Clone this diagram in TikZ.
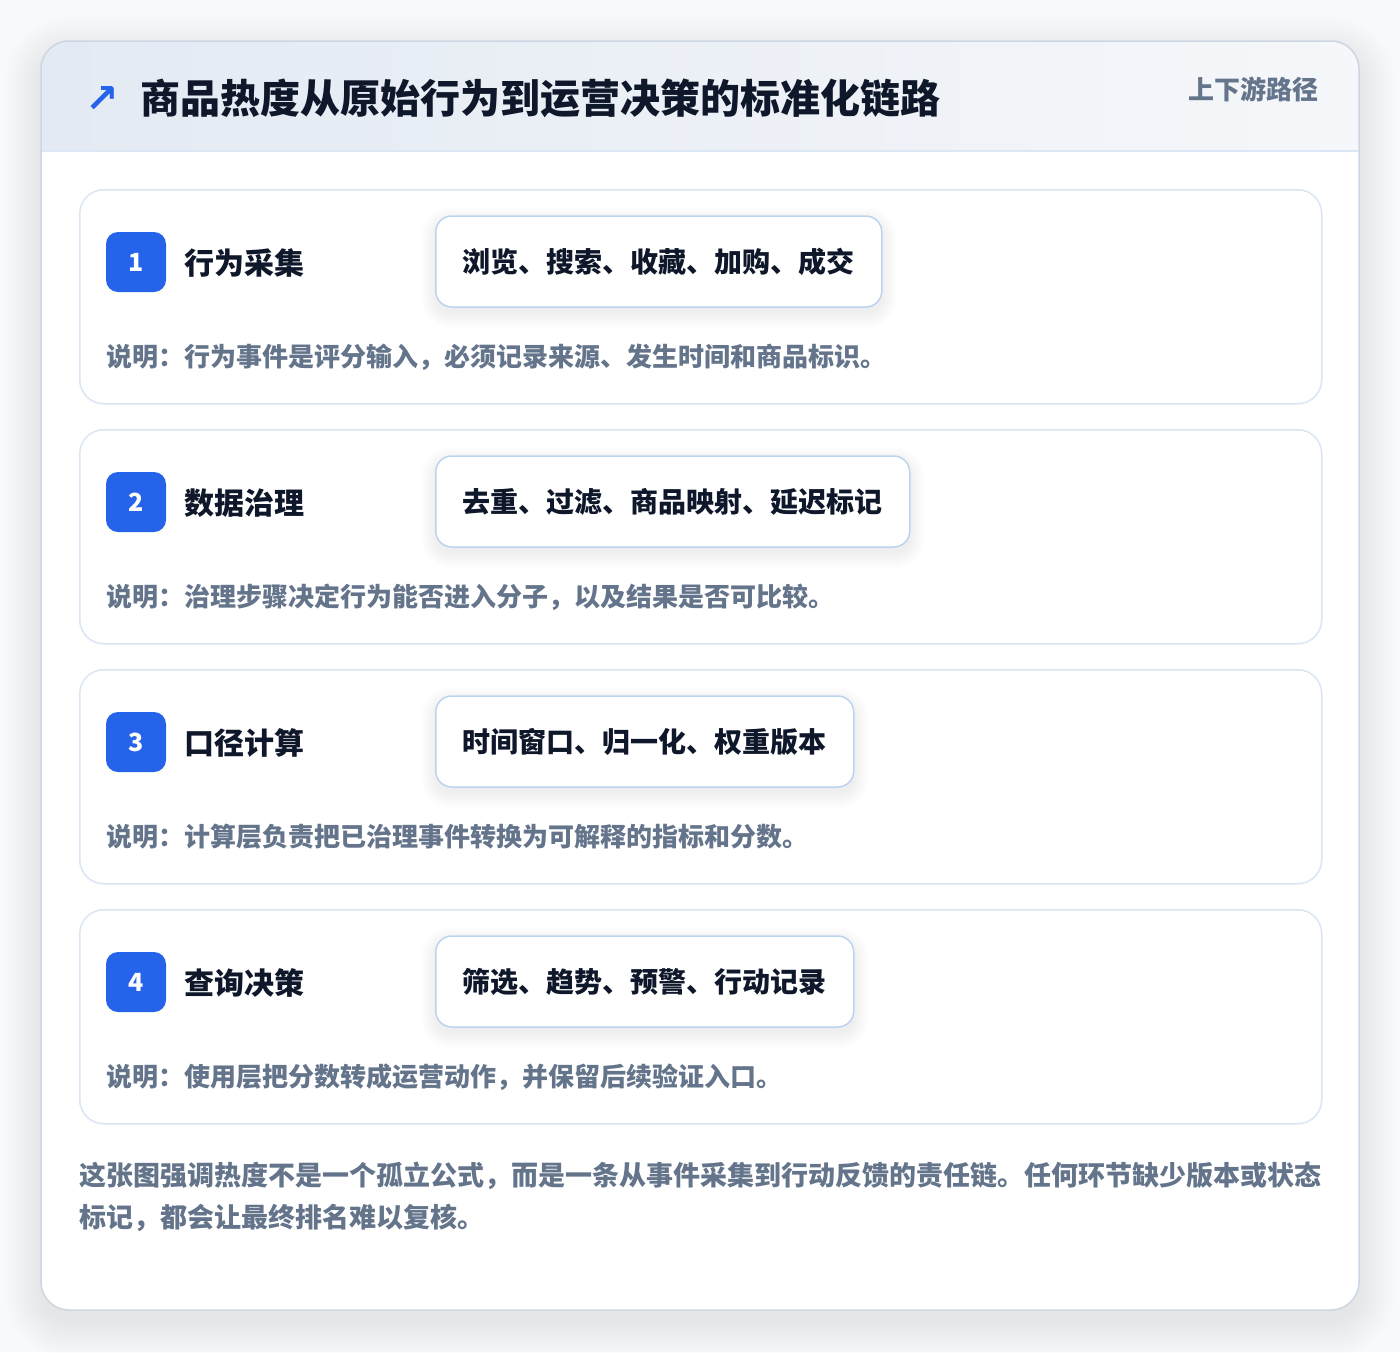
\documentclass[tikz,border=0pt]{standalone}
\usepackage{fontspec}
\setmainfont{Noto Sans CJK SC}
\newfontfamily\symfont{DejaVu Sans}
\definecolor{pagebg}{HTML}{F8F9FB}
\definecolor{cardline}{HTML}{CDD6E3}
\definecolor{hdrleft}{HTML}{E3EAF3}
\definecolor{hdrright}{HTML}{F5F7FA}
\definecolor{hdrline}{HTML}{DCE7F5}
\definecolor{stepline}{HTML}{DBE6F5}
\definecolor{tagline}{HTML}{BCD3F0}
\definecolor{badgeblue}{HTML}{2563EB}
\definecolor{inkdark}{HTML}{0F172A}
\definecolor{inkmuted}{HTML}{64748B}
\definecolor{shadowcol}{HTML}{1E293B}
\tikzset{
  stepbox/.style={draw=stepline, line width=1.5pt, fill=white, rounded corners=24pt,
    minimum width=1242pt, minimum height=214pt, anchor=north west, inner sep=0pt},
  badge/.style={fill=badgeblue, rounded corners=12pt, minimum width=60pt, minimum height=60pt,
    inner sep=0pt, text=white, font=\fontsize{25}{27}\selectfont\bfseries},
  steptitle/.style={anchor=west, inner sep=0pt, text=inkdark, font=\fontsize{30}{34}\selectfont\bfseries},
  tagbox/.style={draw=tagline, line width=1.5pt, fill=white, rounded corners=16pt, anchor=west,
    inner xsep=27pt, inner ysep=0pt, minimum height=91pt, text=inkdark,
    font=\fontsize{28}{32}\selectfont\bfseries},
  desc/.style={anchor=west, inner sep=0pt, text=inkmuted, font=\fontsize{26}{30}\selectfont\bfseries},
}
\begin{document}
\begin{tikzpicture}[x=1pt,y=-1pt]
\useasboundingbox (0,0) rectangle (1400,1352);
\fill[pagebg] (0,0) rectangle (1400,1352);
% card soft shadow
\foreach \k in {0,2,...,36}{
  \fill[shadowcol, opacity=0.0045, rounded corners=28pt+\k pt]
    (41-\k,41-\k+12) rectangle (1359+\k,1310+\k+12);
}
\node[fill=white, rounded corners=28pt, minimum width=1318pt, minimum height=1269pt,
  anchor=north west, inner sep=0pt] (card) at (41,41) {};
\begin{scope}
  \clip[rounded corners=28pt] (41,41) rectangle (1359,1310);
  \shade[left color=hdrleft, right color=hdrright] (41,41) rectangle (1359,151);
\end{scope}
\coordinate (hl) at (41,151);
\coordinate (hr) at (1359,151);
\draw[hdrline, line width=1.5pt] (hl) -- (hr);
\draw[cardline, line width=1.5pt, rounded corners=28pt] (41,41) rectangle (1359,1310);
% header texts
\node[anchor=center, inner sep=0pt, text=badgeblue, font=\symfont\bfseries\fontsize{40}{42}\selectfont] (icon) at (102,99) {↗};
\node[anchor=west, inner sep=0pt, text=inkdark, font=\fontsize{40}{44}\selectfont\bfseries] (title) at (140,98)
  {商品热度从原始行为到运营决策的标准化链路};
\node[anchor=east, inner sep=0pt, text=inkmuted, font=\fontsize{26}{30}\selectfont\bfseries] (route) at (1319,89)
  {上下游路径};
% steps
\foreach \i/\ttl/\tag/\dsc in {
  1/行为采集/浏览、搜索、收藏、加购、成交/说明：行为事件是评分输入，必须记录来源、发生时间和商品标识。,
  2/数据治理/去重、过滤、商品映射、延迟标记/说明：治理步骤决定行为能否进入分子，以及结果是否可比较。,
  3/口径计算/时间窗口、归一化、权重版本/说明：计算层负责把已治理事件转换为可解释的指标和分数。,
  4/查询决策/筛选、趋势、预警、行动记录/说明：使用层把分数转成运营动作，并保留后续验证入口。}{
  \pgfmathsetmacro{\top}{189+240*(\i-1)}
  \node[stepbox] (s\i) at (79,\top) {};
  \node[badge] (b\i) at (136,\top+73) {\i};
  \node[steptitle] (t\i) at (184,\top+74) {\ttl};
  \node[tagbox, opacity=0] (gs\i) at (435,\top+72.5) {\tag};
  \foreach \k in {0,2,...,14}{
    \fill[shadowcol, opacity=0.006, rounded corners=16pt+\k pt]
      ([xshift=-\k pt, yshift=\k pt-6pt]gs\i.north west) rectangle ([xshift=\k pt, yshift=-\k pt-6pt]gs\i.south east);
  }
  \node[tagbox] (g\i) at (435,\top+72.5) {\tag};
  \node[desc] (d\i) at (106,\top+168) {\dsc};
}
% footer
\node[anchor=north west, inner sep=0pt, text=inkmuted, align=left,
  font=\fontsize{27}{42}\selectfont\bfseries] (foot) at (79,1162)
  {这张图强调热度不是一个孤立公式，而是一条从事件采集到行动反馈的责任链。任何环节缺少版本或状态\\标记，都会让最终排名难以复核。};
\end{tikzpicture}
\end{document}
